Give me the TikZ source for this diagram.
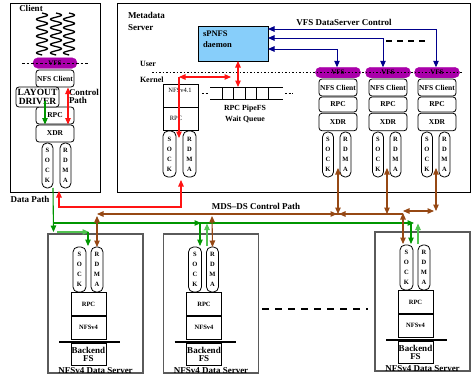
\documentclass[tikz,border=0pt]{standalone}
\usepackage{fontspec}
\setmainfont{Liberation Serif}
\usetikzlibrary{arrows.meta,calc}
\definecolor{vfspurple}{RGB}{170,0,170}
\definecolor{ctlbrown}{RGB}{150,72,20}
\definecolor{datagreen}{RGB}{0,150,0}
\definecolor{datalgreen}{RGB}{80,195,80}
\definecolor{ctlnavy}{RGB}{0,0,140}
\definecolor{daemonblue}{RGB}{135,206,250}
\definecolor{dsgray}{RGB}{90,90,90}
\definecolor{pathred}{RGB}{255,20,20}
\begin{document}
\begin{tikzpicture}[x=1pt,y=-1pt,
  >={Triangle[length=6.5pt,width=5.5pt]},
  every node/.style={inner sep=0pt, outer sep=0pt},
  sbox/.style={draw, rounded corners=3pt, line width=0.8pt, minimum width=38pt, font=\fontsize{7.5}{8}\selectfont\bfseries},
  pill/.style={draw, rounded corners=5pt, line width=0.8pt, align=center, font=\fontsize{6.5}{10}\selectfont\bfseries},
  vfsbar/.style={fill=vfspurple, draw=vfspurple, rounded corners=5pt, minimum height=10.5pt, font=\fontsize{7}{7}\selectfont\bfseries},
  sqbox/.style={draw, line width=0.8pt, minimum width=35pt},
  lbl/.style={font=\fontsize{9}{9}\selectfont\bfseries},
  small/.style={font=\fontsize{6.5}{7}\selectfont},
  redln/.style={pathred, line width=1.1pt},
  brownln/.style={ctlbrown, line width=1.1pt},
  greenln/.style={datagreen, line width=1.1pt},
  lgreenln/.style={datalgreen, line width=1.1pt},
  navyln/.style={ctlnavy, line width=1pt}
]
\useasboundingbox (0,0) rectangle (472,380);

% ---------------- Client ----------------
\node[draw, line width=0.9pt, minimum width=90pt, minimum height=189pt] (client) at (55,97.5) {};
\node[lbl] (clientlbl) at (31,8.5) {Client};
\foreach \cx in {42,56,69}
  \draw[line width=1.3pt] plot[domain=0:42,samples=150,smooth] ({\cx+5.5*sin(\x*42.9)},{13+\x});
\node[vfsbar, minimum width=44pt] (cvfs) at (55,63) {VFS};
\draw[dash pattern=on 2.5pt off 2pt, line width=0.8pt] (22,63) -- (88,63);
\node[sbox, minimum height=17pt] (cnfs) at (55,78.5) {NFS Client};
\node[sbox, minimum height=17pt] (crpc) at (55,115.5) {RPC};
\node[sbox, minimum height=17pt] (cxdr) at (55,133.5) {XDR};
\node[sbox, minimum width=43pt, minimum height=20pt, fill=white, align=center, font=\fontsize{9.5}{8.5}\selectfont\bfseries] (clay) at (37.5,97) {LAYOUT\\DRIVER};
\node[pill, minimum width=11pt, minimum height=45pt] (csock) at (47.5,165.5) {S\\O\\C\\K};
\node[pill, minimum width=11pt, minimum height=45pt] (crdma) at (65.5,165.5) {R\\D\\M\\A};
\node[anchor=west, align=left, font=\fontsize{9}{8.5}\selectfont\bfseries] (ctlpath) at (69,96.5) {Control\\Path};
\draw[greenln, ->] (45,101) -- (45 ,124.5);
\draw[redln, <->] (68,87.5) -- (68,124.5);
\node[lbl] (dplbl) at (30,199) {Data Path};

% ---------------- Metadata server ----------------
\node[draw, line width=0.9pt, minimum width=353pt, minimum height=189pt] (mds) at (293.5,97.5) {};
\node[anchor=west, align=left, font=\fontsize{9}{12}\selectfont\bfseries] (mdslbl) at (128,21) {Metadata\\Server};
\node[draw, fill=daemonblue, line width=0.9pt, minimum width=70pt, minimum height=35pt] (spnfs) at (233,43.5) {};
\node[anchor=west, align=left, font=\fontsize{8.5}{11}\selectfont\bfseries] (spnfslbl) at (203,39.5) {sPNFS\\daemon};
\node[anchor=west, font=\fontsize{8}{8}\selectfont\bfseries] (user) at (140,64) {User};
\node[anchor=west, font=\fontsize{8}{8}\selectfont\bfseries] (kernel) at (140,79.5) {Kernel};

\node[sqbox, minimum height=23pt] (mnfs) at (180.5,95.5) {};
\node[small] (mnfslbl) at (180,90.5) {NFSv4.1};
\node[sqbox, minimum height=23pt] (mrpc) at (180.5,118.5) {};
\node[small] (mrpclbl) at (176,118.5) {RPC};
\node[pill, minimum width=13pt, minimum height=46pt] (msock) at (169.5,154) {S\\O\\C\\K};
\node[pill, minimum width=13pt, minimum height=46pt] (mrdma) at (189.5,154) {R\\D\\M\\A};

% queue
\node[minimum width=73pt, minimum height=12pt] (queue) at (246.5,93) {};
\draw[line width=0.9pt] (queue.north west) -- (queue.north east) (queue.south west) -- (queue.south east);
\foreach \qx in {222,233.5,245,256.5,268} \draw[line width=0.8pt] (\qx,87) -- (\qx,99);
\draw[dash pattern=on 2pt off 1.5pt, line width=0.8pt] (202,93) -- (209,93) (285,93) -- (293,93);
\node[align=center, font=\fontsize{7.8}{11}\selectfont\bfseries] (qlbl) at (245,113.5) {RPC PipeFS\\Wait Queue};

% client stacks inside MDS
\foreach \i/\cx in {1/338,2/388,3/437} {
  \node[vfsbar, minimum width=45pt] (mvfs\i) at (\cx,72.5) {VFS};
  \node[sbox, minimum height=17pt] (mnfsc\i) at (\cx,87.5) {NFS Client};
  \node[sbox, minimum height=15pt] (mrpc\i) at (\cx,104.5) {RPC};
  \node[sbox, minimum height=17.5pt] (mxdr\i) at (\cx,122) {XDR};
  \node[pill, minimum width=11pt, minimum height=45pt] (msk\i) at ({\cx-10},154.5) {S\\O\\C\\K};
  \node[pill, minimum width=11pt, minimum height=45pt] (mrd\i) at ({\cx+7.5},154.5) {R\\D\\M\\A};
}
\draw[dash pattern=on 1.5pt off 2pt, line width=0.9pt] (152,72) -- (463,72);

% MDS red
\draw[redln, <->] ([xshift=5pt]spnfs.south) -- ([xshift=5pt]spnfs.south |- queue.north);
\coordinate (upc) at (231,77);
\coordinate (upl) at (179,77);
\draw[redln, <->] (upl) -- (upc);
\draw[redln, ->] (upl) -- (179,138);

% navy control
\node[lbl] (vdslbl) at (344,22) {VFS DataServer Control};
\draw[navyln, <->] ($(spnfs.north east)+(0,3)$) -| ([xshift=-1pt]mvfs3.north);
\draw[navyln, <->] ($(spnfs.north east)+(0,12)$) -| ([xshift=-5pt]mvfs2.north);
\draw[navyln, <->] ($(spnfs.south east)+(0,-12)$) -| ([xshift=-1pt]mvfs1.north);
\draw[line width=1.3pt, dash pattern=on 6pt off 5pt] (386,41) -- (429,41);

% ---------------- Data servers ----------------
\foreach \i/\ox/\oy in {1/88.5/234, 2/204/234, 3/415.5/232} {
  \begin{scope}[shift={(\ox,\oy)}]
    \node[draw=dsgray, line width=1.1pt, minimum width=95pt, minimum height=139pt] (dsbox\i) at (7,69.5) {};
    \node[pill, minimum width=13pt, minimum height=45pt] (dssk\i) at (-9,35.5) {S\\O\\C\\K};
    \node[pill, minimum width=12pt, minimum height=45pt] (dsrd\i) at (8.5,35.5) {R\\D\\M\\A};
    \node[sqbox, minimum height=24pt, font=\fontsize{6.5}{7}\selectfont\bfseries] (dsrpc\i) at (0,70) {RPC};
    \node[sqbox, minimum height=23pt, font=\fontsize{6.5}{7}\selectfont\bfseries] (dsnfs\i) at (0,93.5) {NFSv4};
    \draw[line width=1.6pt] (dsrpc\i.south west) -- (dsrpc\i.south east);
    \draw[line width=1.6pt] (-29.5,108) -- (31.5,108);
    \node[sqbox, minimum height=22pt, align=center, font=\fontsize{9}{8}\selectfont\bfseries] (dsbe\i) at (0,120) {Backend\\FS};
    \node[lbl, anchor=base] (dslbl\i) at (7,139.5) {NFSv4 Data Server};
  \end{scope}
}
\draw[line width=2pt, dash pattern=on 7pt off 6pt] (262,309) -- (368,309);

% ---------------- Data path (green) ----------------
\draw[greenln, ->] (csock.south east) -- (53.5,232);
\draw[greenln, ->] (53.5,223) -- (414,223);
\draw[lgreenln, ->] (57,232) -- (89,232);
\draw[greenln, ->] (88,232) -- (88,246);
\draw[greenln, ->] (190,223) -- (201,223);
\draw[greenln, ->] (200,223) -- (200,246);
\draw[lgreenln, ->] (207,246) -- (207,223.5);
\draw[greenln, ->] (411,223) -- (411,244);
\draw[lgreenln, ->] (418,244) -- (418,223.5);

% ---------------- Control path (red) ----------------
\draw[redln, <->] (59,191) |- (181,207) -- (181,180);

% ---------------- MDS-DS control path (brown) ----------------
\node[lbl] (mdsdslbl) at (256,206) {MDS--DS Control Path};
\draw[brownln, <-] (97,214) -- (403,214);
\draw[brownln, <->] (97,216) -- (dsrd1.north);
\draw[brownln, <->] (212,216) -- (dsrd2.north);
\draw[brownln, <->] (338,168) -- (338,214);
\draw[brownln, ->] (322,214) -- (337,214);
\draw[brownln, ->] (354,214) -- (339,214);
\draw[brownln, <->] (387,168) -- (387,214);
\draw[brownln, <->] (436,168) -- (436,211);
\draw[brownln, <->] (403,211) -- (434,211);
\draw[brownln, <->] (403,213) -- (403,244);
\end{tikzpicture}
\end{document}
